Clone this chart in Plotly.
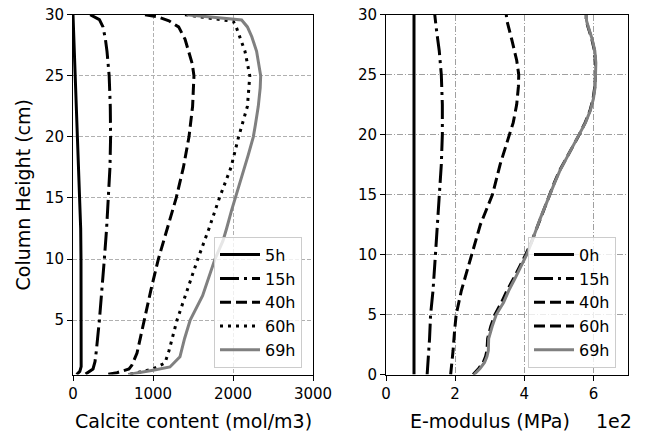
import plotly.graph_objects as go

# ---------------- Left panel: calcite content (mol/m3) vs height (cm) ----------------
c5_y = [30, 27.5, 25, 22.5, 20, 17.5, 15, 12.5, 10, 7.5, 5, 2.5, 1.2, 0.8, 0.55]
c5_x = [0, 15, 30, 45, 60, 75, 88, 96, 100, 101, 102, 102, 102, 85, 45]

c15_y = [30, 29.6, 29, 28, 27, 25, 22.5, 20, 17.5, 15, 12.5, 10, 7.5, 5, 2.5, 1.6, 1.0, 0.55]
c15_x = [215, 330, 375, 405, 425, 452, 466, 470, 462, 445, 420, 392, 362, 330, 292, 275, 250, 150]

c40_y = [30, 29.85, 29.5, 29, 28, 27, 26, 25, 22.5, 20, 17.5, 15, 12.5, 10, 7.5, 5, 2.3, 1.3, 1.0, 0.7, 0.55]
c40_x = [900, 1046, 1200, 1320, 1400, 1445, 1490, 1512, 1495, 1450, 1380, 1290, 1180, 1067, 975, 887, 800, 735, 700, 550, 420]

c60_y = [30, 29.45, 29, 28, 27, 25, 22.5, 20, 17.5, 15, 12.5, 10, 7.5, 5, 2.5, 1.5, 1.0, 0.7, 0.55]
c60_x = [1400, 2004, 2040, 2100, 2150, 2210, 2180, 2070, 1975, 1830, 1700, 1560, 1430, 1300, 1200, 1150, 1000, 800, 700]

c69_y = [30, 29.57, 29, 28.2, 27, 26, 25, 24, 22.5, 21, 20, 18.5, 17, 15.5, 14, 12.5, 11.5, 10, 8.5, 7, 5, 3.5, 2.0, 1.17, 0.9, 0.63, 0.55]
c69_x = [1420, 2108, 2180, 2235, 2295, 2325, 2346, 2340, 2316, 2280, 2254, 2190, 2120, 2046, 1983, 1920, 1875, 1775, 1700, 1620, 1465, 1395, 1337, 1212, 1000, 754, 690]

calcite_labels = ["5h", "15h", "40h", "60h", "69h"]

# ---------------- Right panel: E-modulus (MPa) vs height (cm) ----------------
e0_y = [0, 30]
e0_x = [81, 81]

e15_y = [0, 1, 3, 5, 7, 10, 12, 15, 17.5, 20, 22.5, 25, 27, 28.5, 30]
e15_x = [119, 122, 126, 129, 136, 143, 148, 155, 160, 163, 163, 160, 154, 147, 141]

e40_y = [0, 0.7, 2, 3.5, 5, 7, 10, 12.5, 15, 17.5, 20, 21, 22.5, 24, 25, 26.2, 27.9, 29.6, 30]
e40_x = [187, 190, 194, 198, 203, 218, 247, 273, 308, 330, 357, 368, 378, 383, 384, 378, 364, 349, 348]

e60_y = [0, 0.5, 1, 1.5, 2, 2.5, 3, 4, 5, 6, 7, 8, 9, 10, 11, 12, 13, 14, 15, 16, 17, 18, 19, 20, 21, 22, 23, 24, 25, 26, 27, 28, 29, 29.5, 30]
e60_x = [252, 268, 281, 288, 292, 293, 294, 303, 315, 334, 350, 369, 387, 404, 420, 433, 446, 459, 472, 487, 502, 521, 541, 559, 576, 590, 599, 604, 606, 606, 603, 595, 584, 579, 579]

e69_y = [0, 0.5, 1, 1.5, 2, 2.5, 3, 4, 5, 6, 7, 8, 9, 10, 11, 12, 13, 14, 15, 16, 17, 18, 19, 20, 21, 22, 23, 24, 25, 26, 27, 28, 29, 29.5, 30]
e69_x = [255, 272, 285, 292, 296, 296, 297, 307, 319, 340, 355, 373, 390, 407, 421, 433, 446, 460, 473, 488, 503, 521, 541, 559, 577, 591, 600, 605, 607, 607, 604, 596, 585, 580, 580]

emod_labels = ["0h", "15h", "40h", "60h", "69h"]

left_ticks_x = [0, 1000, 2000, 3000]
left_ticks_y = [5, 10, 15, 20, 25, 30]
right_ticks_x = [0, 200, 400, 600]
right_ticktext = ["0", "2", "4", "6"]
right_ticks_y = [0, 5, 10, 15, 20, 25, 30]

FONT = "DejaVu Sans"
BLACK = "black"
GRAY = "#808080"
LW = 3

styles = [
    dict(color=BLACK, dash="solid"),
    dict(color=BLACK, dash="19px,5px,3px,5px"),
    dict(color=BLACK, dash="11px,5px"),
    dict(color=BLACK, dash="3px,5px"),
    dict(color=GRAY, dash="solid"),
]
right_styles = [
    dict(color=BLACK, dash="solid"),
    dict(color=BLACK, dash="19px,5px,3px,5px"),
    dict(color=BLACK, dash="11px,5px"),
    dict(color=BLACK, dash="11px,5px"),
    dict(color=GRAY, dash="solid"),
]

fig = go.Figure()

left_series = [(c5_x, c5_y), (c15_x, c15_y), (c40_x, c40_y), (c60_x, c60_y), (c69_x, c69_y)]
for (xs, ys), name, st in zip(left_series, calcite_labels, styles):
    fig.add_trace(go.Scatter(x=xs, y=ys, mode="lines", name=name,
                             line=dict(color=st["color"], dash=st["dash"], width=LW),
                             xaxis="x", yaxis="y", legend="legend"))

right_series = [(e0_x, e0_y), (e15_x, e15_y), (e40_x, e40_y), (e60_x, e60_y), (e69_x, e69_y)]
for (xs, ys), name, st in zip(right_series, emod_labels, right_styles):
    fig.add_trace(go.Scatter(x=xs, y=ys, mode="lines", name=name,
                             line=dict(color=st["color"], dash=st["dash"], width=LW),
                             xaxis="x2", yaxis="y2", legend="legend2"))

W, H = 646, 435
ytop, ybot = 14.7, 374.5
ydom = [1 - ybot / H, 1 - ytop / H]

axis_common = dict(showline=True, mirror=True, linecolor=BLACK, linewidth=1,
                   ticks="outside", ticklen=5, tickwidth=1, tickcolor=BLACK,
                   tickfont=dict(family=FONT, size=15, color=BLACK),
                   zeroline=False, showgrid=True, automargin=False)

legend_common = dict(xanchor="left", yanchor="top",
                     bgcolor="rgba(255,255,255,0.8)", bordercolor="#cccccc", borderwidth=1,
                     font=dict(family=FONT, size=16, color=BLACK),
                     tracegroupgap=0, itemwidth=40)

fig.update_layout(
    width=W, height=H,
    margin=dict(l=0, r=0, t=0, b=0),
    paper_bgcolor="white", plot_bgcolor="white",
    showlegend=True,
    xaxis=dict(domain=[73 / W, 313 / W], range=[0, 3000], tickvals=left_ticks_x,
               anchor="y", gridcolor="#b0b0b0", griddash="4px,2px", gridwidth=1, **axis_common),
    yaxis=dict(domain=ydom, range=[0.55, 30], tickvals=left_ticks_y,
               anchor="x", gridcolor="#b0b0b0", griddash="4px,2px", gridwidth=1, **axis_common),
    xaxis2=dict(domain=[386 / W, 628 / W], range=[0, 700], tickvals=right_ticks_x,
                ticktext=right_ticktext, anchor="y2",
                gridcolor="#a0a0a0", griddash="6px,2px,1px,2px", gridwidth=1, **axis_common),
    yaxis2=dict(domain=ydom, range=[0, 30], tickvals=right_ticks_y, anchor="x2",
                gridcolor="#a0a0a0", griddash="6px,2px,1px,2px", gridwidth=1, **axis_common),
    legend=dict(x=214 / W, y=1 - 236.7 / H, **legend_common),
    legend2=dict(x=528 / W, y=1 - 236.7 / H, **legend_common),
    annotations=[
        dict(text="Calcite content (mol/m3)", x=193 / W, y=1 - 421 / H, xref="paper", yref="paper",
             xanchor="center", yanchor="middle", showarrow=False,
             font=dict(family=FONT, size=19, color=BLACK)),
        dict(text="E-modulus (MPa)", x=490 / W, y=1 - 421 / H, xref="paper", yref="paper",
             xanchor="center", yanchor="middle", showarrow=False,
             font=dict(family=FONT, size=19, color=BLACK)),
        dict(text="1e2", x=614 / W, y=1 - 421 / H, xref="paper", yref="paper",
             xanchor="center", yanchor="middle", showarrow=False,
             font=dict(family=FONT, size=19, color=BLACK)),
        dict(text="Column Height (cm)", x=22.5 / W, y=1 - 195 / H, xref="paper", yref="paper",
             xanchor="center", yanchor="middle", showarrow=False, textangle=-90,
             font=dict(family=FONT, size=19, color=BLACK)),
    ],
)

fig.write_html("out.html")
